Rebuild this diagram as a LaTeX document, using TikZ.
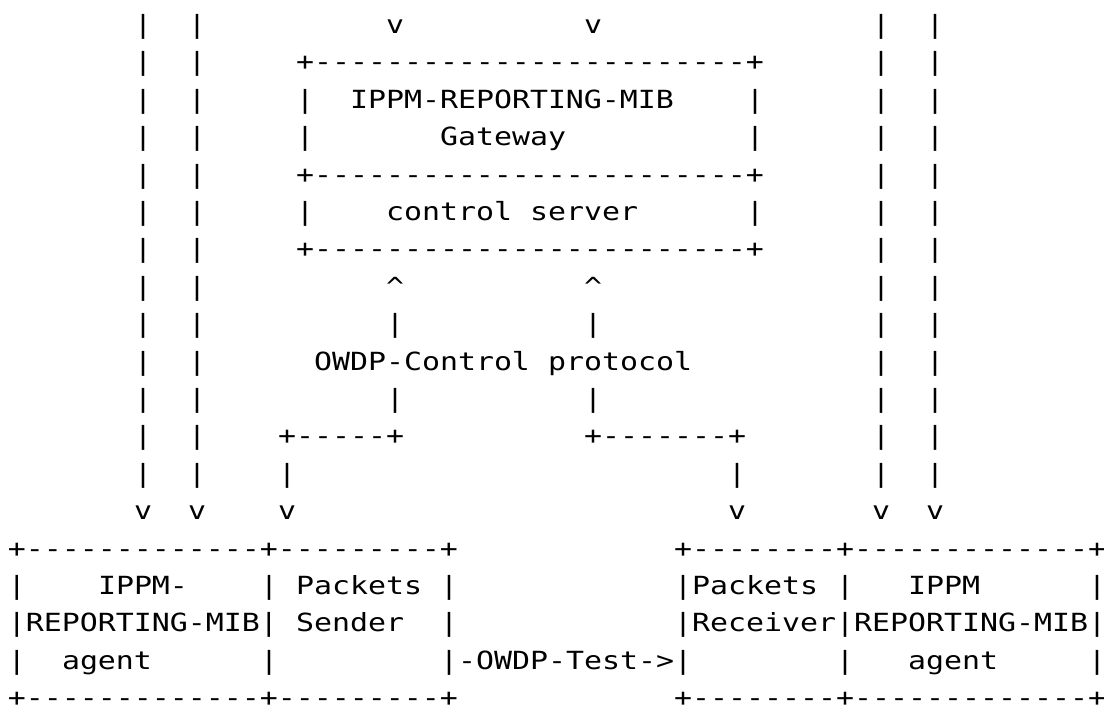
\documentclass[tikz,border=0pt]{standalone}
\usepackage{fontspec}
\newfontfamily\asciifont{DejaVu Sans Mono}[FakeStretch=1.196]
\tikzset{
  asc/.style={anchor=base west, inner sep=0pt, outer sep=0pt, text=black,
    text depth=0pt, font=\asciifont\fontsize{25pt}{25pt}\selectfont},
}
% node name, column, row, text
\newcommand{\asciitext}[4]{\node[asc] (#1) at ({8+18*(#2)},{-33.5-37.4*(#3)}) {#4};}
\begin{document}
\begin{tikzpicture}[x=1pt,y=1pt]
\useasboundingbox (0,0) rectangle (1104,-712);
% long vertical lines on the left and right (rows 0..12)
\foreach \r in {0,...,12}{
  \asciitext{la\r}{7}{\r}{|}
  \asciitext{lb\r}{10}{\r}{|}
  \asciitext{ra\r}{48}{\r}{|}
  \asciitext{rb\r}{51}{\r}{|}
}
% row 0
\asciitext{v1}{21}{0}{v}
\asciitext{v2}{32}{0}{v}
% gateway box
\asciitext{gtop}{16}{1}{+------------------------+}
\asciitext{g2l}{16}{2}{|}
\asciitext{g2t}{19}{2}{IPPM-REPORTING-MIB}
\asciitext{g2r}{41}{2}{|}
\asciitext{g3l}{16}{3}{|}
\asciitext{g3t}{24}{3}{Gateway}
\asciitext{g3r}{41}{3}{|}
\asciitext{gmid}{16}{4}{+------------------------+}
\asciitext{g5l}{16}{5}{|}
\asciitext{g5a}{21}{5}{control}
\asciitext{g5b}{29}{5}{server}
\asciitext{g5r}{41}{5}{|}
\asciitext{gbot}{16}{6}{+------------------------+}
% OWDP-Control arrows
\asciitext{up1}{21}{7}{\textasciicircum}
\asciitext{up2}{32}{7}{\textasciicircum}
\asciitext{c8a}{21}{8}{|}
\asciitext{c8b}{32}{8}{|}
\asciitext{owa}{17}{9}{OWDP-Control}
\asciitext{owb}{30}{9}{protocol}
\asciitext{c10a}{21}{10}{|}
\asciitext{c10b}{32}{10}{|}
\asciitext{c11a}{15}{11}{+-----+}
\asciitext{c11b}{32}{11}{+-------+}
\asciitext{c12a}{15}{12}{|}
\asciitext{c12b}{40}{12}{|}
% row 13 arrowheads
\asciitext{d1}{7}{13}{v}
\asciitext{d2}{10}{13}{v}
\asciitext{d3}{15}{13}{v}
\asciitext{d4}{40}{13}{v}
\asciitext{d5}{48}{13}{v}
\asciitext{d6}{51}{13}{v}
% left box
\asciitext{l14}{0}{14}{+-------------+---------+}
\asciitext{l15a}{0}{15}{|}
\asciitext{l15b}{5}{15}{IPPM-}
\asciitext{l15c}{14}{15}{|}
\asciitext{l15d}{16}{15}{Packets}
\asciitext{l15e}{24}{15}{|}
\asciitext{l16a}{0}{16}{|REPORTING-MIB|}
\asciitext{l16b}{16}{16}{Sender}
\asciitext{l16c}{24}{16}{|}
\asciitext{l17a}{0}{17}{|}
\asciitext{l17b}{3}{17}{agent}
\asciitext{l17c}{14}{17}{|}
\asciitext{l18}{0}{18}{+-------------+---------+}
% test arrow
\asciitext{test}{24}{17}{|-OWDP-Test->|}
% right box
\asciitext{r14}{37}{14}{+--------+-------------+}
\asciitext{r15a}{37}{15}{|Packets}
\asciitext{r15b}{46}{15}{|}
\asciitext{r15c}{50}{15}{IPPM}
\asciitext{r15d}{60}{15}{|}
\asciitext{r16}{37}{16}{|Receiver|REPORTING-MIB|}
\asciitext{r17a}{46}{17}{|}
\asciitext{r17b}{50}{17}{agent}
\asciitext{r17c}{60}{17}{|}
\asciitext{r18}{37}{18}{+--------+-------------+}
\end{tikzpicture}
\end{document}
